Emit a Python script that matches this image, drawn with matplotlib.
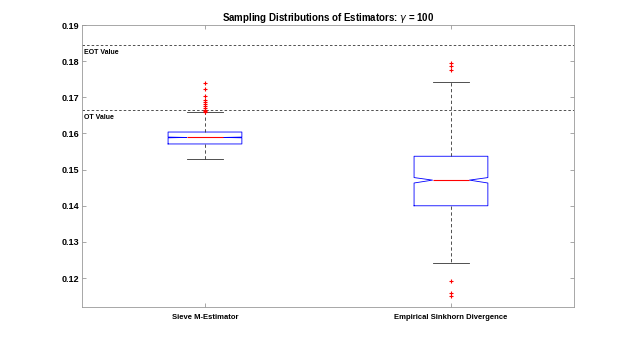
import matplotlib.pyplot as plt
import numpy as np

"""Values read off the reference"""

labels = ['Sieve M-Estimator', 'Empirical Sinkhorn Divergence']
q1 = [0.1571, 0.1400]
med = [0.1589, 0.1471]
q3 = [0.1604, 0.1537]
ci_lo = [0.1588, 0.1463]
ci_hi = [0.1590, 0.1478]
whis_lo = [0.1529, 0.1242]
whis_hi = [0.1659, 0.1741]
fliers_sieve = [0.1739, 0.1722, 0.1703, 0.1692, 0.1687, 0.1681, 0.1675,
                0.1670, 0.1665, 0.1662, 0.1660]
fliers_sinkhorn = [0.1796, 0.1787, 0.1776, 0.1192, 0.1158, 0.1151]

eot_value = 0.1845
ot_value = 0.1666

plt.rcParams['font.family'] = ['Liberation Sans', 'DejaVu Sans']

stats = []
fl = [fliers_sieve, fliers_sinkhorn]
for i in range(2):
    stats.append(dict(label=labels[i], q1=q1[i], med=med[i], q3=q3[i],
                      cilo=ci_lo[i], cihi=ci_hi[i], whislo=whis_lo[i],
                      whishi=whis_hi[i], fliers=fl[i]))

fig = plt.figure(figsize=(6.34, 3.46), dpi=100)
ax = fig.add_axes([0.1293, 0.1127, 0.776, 0.815])

ax.bxp(stats, positions=[1, 2], widths=0.3, shownotches=True,
       boxprops=dict(color='#0000ff', linewidth=0.6),
       medianprops=dict(color='#ff0000', linewidth=0.8, zorder=5),
       whiskerprops=dict(color='#333333', linewidth=0.6, linestyle=(0, (4, 3))),
       capprops=dict(color='#333333', linewidth=0.6),
       flierprops=dict(marker='+', color='#ff0000', markeredgecolor='#ff0000',
                       markerfacecolor='#ff0000', markersize=3.5,
                       markeredgewidth=0.8, linestyle='none', zorder=6))

ax.axhline(eot_value, color='#333333', linestyle=(0, (3, 2.5)), linewidth=0.6)
ax.axhline(ot_value, color='#333333', linestyle=(0, (3, 2.5)), linewidth=0.6)
ax.text(0.51, eot_value - 0.0011, 'EOT Value', fontsize=5, fontweight='bold',
        va='top', ha='left')
ax.text(0.51, ot_value - 0.0011, 'OT Value', fontsize=5, fontweight='bold',
        va='top', ha='left')

ax.set_xlim(0.5, 2.5)
ax.set_ylim(0.112, 0.19)
ax.set_yticks(np.arange(0.12, 0.1901, 0.01))
ax.set_yticklabels(['%.2f' % v for v in np.arange(0.12, 0.1901, 0.01)])
ax.set_xticks([1, 2])
ax.set_xticklabels(labels)
ax.tick_params(direction='in', length=3, width=0.6, color='#999999',
               top=True, right=True, pad=2)
ax.tick_params(axis='y', labelsize=6.5)
ax.tick_params(axis='x', labelsize=5.5, pad=5)
for lab in ax.get_xticklabels() + ax.get_yticklabels():
    lab.set_fontweight('bold')
for s in ax.spines.values():
    s.set_color('#999999')
    s.set_linewidth(0.6)

ax.set_title(r'Sampling Distributions of Estimators: $\gamma$ = 100',
             fontsize=7, fontweight='bold', pad=3)

fig.savefig('out.png', dpi=100)
